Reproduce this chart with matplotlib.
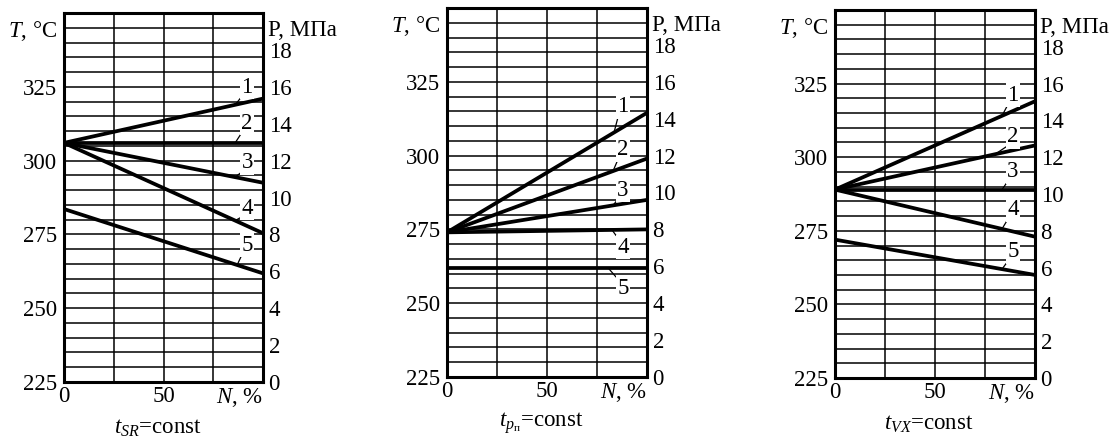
import matplotlib
matplotlib.use("Agg")
import matplotlib.pyplot as plt
import numpy as np

plt.rcParams['font.family'] = ['Liberation Serif', 'DejaVu Serif']
plt.rcParams['mathtext.fontset'] = 'custom'
plt.rcParams['mathtext.rm'] = 'Liberation Serif'
plt.rcParams['mathtext.it'] = 'Liberation Serif:italic'
plt.rcParams['mathtext.bf'] = 'Liberation Serif:bold'

# ---- data ----
N = [0, 100]
t_ticks = [225, 250, 275, 300, 325]
p_ticks = [0, 2, 4, 6, 8, 10, 12, 14, 16, 18]
titles = [r'$t_{SR}$=const', r'$t_{p_\mathrm{п}}$=const', r'$t_{VX}$=const']

# T values (°C) at N=0 and N=100 for curves 1..5
panel1_T = [[306, 321], [306, 306], [306, 292.5], [306, 275.4], [283.6, 261.8]]
panel2_T = [[274, 314.5], [274, 299], [274, 285], [274, 275], [262, 262]]
panel3_T = [[289, 319], [289, 304], [289, 289], [289, 273], [272, 260]]
panels_T = [panel1_T, panel2_T, panel3_T]
curve_names = ['1', '2', '3', '4', '5']

# label text positions (N, T) and N at which leader touches the curve
label_pos = [
    [(92, 324.9), (92, 312.7), (92, 299.2), (92, 283.9), (92, 271.4)],
    [(88, 316.5), (88, 301.9), (88, 288.3), (88, 269.0), (88, 255.1)],
    [(89, 321.1), (89, 306.9), (89, 295.0), (89, 282.1), (89, 267.8)],
]
leader_N = [
    [86, 86, 86, 86, 87],
    [83.5, 83, 83, 82.5, 80.5],
    [83.5, 80, 83.5, 83.5, 83.5],
]
# label below the curve (leader from top-left corner)?
label_below = [
    [False] * 5,
    [False, False, False, True, True],
    [False] * 5,
]

W, H = 1118, 441
fig = plt.figure(figsize=(W / 100, H / 100), dpi=100)
# axes boxes in pixels: left, top, right, bottom
boxes = [(64, 13, 263, 382), (447, 8, 647, 377), (835, 10, 1035, 378)]

FS = 16.5
for k, (l, t, r, b) in enumerate(boxes):
    ax = fig.add_axes([l / W, 1 - b / H, (r - l) / W, (b - t) / H])
    ax.set_xlim(0, 100)
    ax.set_ylim(225, 350)
    ax.set_yticks(t_ticks)
    ax.set_yticks(np.arange(225, 351, 5), minor=True)
    ax.set_xticks([0, 50, 100])
    ax.set_xticks([25, 75], minor=True)
    ax.set_xticklabels(['0', '50', r'$N$, %'], fontsize=FS)
    ax.get_xticklabels()[2].set_horizontalalignment('right')
    ax.tick_params(which='both', length=0)
    ax.tick_params(axis='y', labelsize=FS, pad=5)
    ax.tick_params(axis='x', labelsize=FS, pad=3)
    ax.grid(which='both', color='black', linewidth=1.1)
    ax.set_axisbelow(True)
    for s in ax.spines.values():
        s.set_linewidth(2.2)

    for vals in panels_T[k]:
        ax.plot(N, vals, color='black', linewidth=2.7, solid_capstyle='butt', zorder=3)

    for j, vals in enumerate(panels_T[k]):
        xl = leader_N[k][j]
        yl = vals[0] + (vals[1] - vals[0]) * (xl - N[0]) / (N[1] - N[0])
        tx, ty = label_pos[k][j]
        rp = (0.1, 0.9) if label_below[k][j] else (0.1, 0.1)
        ax.annotate(curve_names[j], xy=(xl, yl), xytext=(tx, ty),
                    fontsize=FS, ha='center', va='center', zorder=5,
                    bbox=dict(boxstyle='square,pad=0.05', fc='white', ec='none'),
                    arrowprops=dict(arrowstyle='-', color='black', lw=0.9,
                                    shrinkA=0, shrinkB=0, relpos=rp))

    ax.text(-0.035, 344, r'$T$, °C', transform=ax.get_yaxis_transform(),
            ha='right', va='center', fontsize=FS)
    ax.text(1.025, 344, 'P, МПа', transform=ax.get_yaxis_transform(),
            ha='left', va='center', fontsize=FS)

    ax2 = ax.twinx()
    ax2.set_ylim(0, 20)
    ax2.set_yticks(p_ticks)
    ax2.tick_params(length=0, labelsize=FS, pad=4)
    for s in ax2.spines.values():
        s.set_visible(False)

    ax.text(0.5 - 0.03, -0.125, titles[k], transform=ax.transAxes,
            ha='center', va='center', fontsize=FS)

fig.savefig('out.png', dpi=100)
